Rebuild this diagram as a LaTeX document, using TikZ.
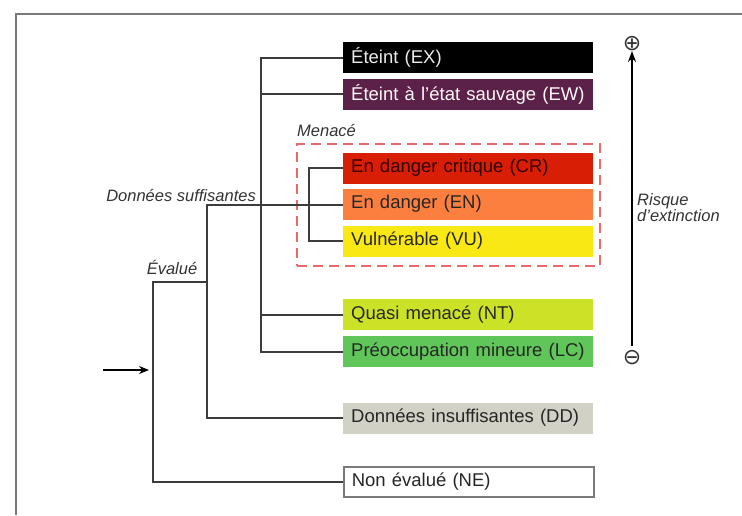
\documentclass[tikz,border=0pt]{standalone}
\usepackage{fontspec}
\setmainfont{Liberation Sans}
\newfontfamily\symfont{DejaVu Sans}
\usetikzlibrary{arrows.meta}
\definecolor{cEX}{HTML}{000000}
\definecolor{cEW}{HTML}{5C2149}
\definecolor{cCR}{HTML}{D81E05}
\definecolor{cEN}{HTML}{FC7F3F}
\definecolor{cVU}{HTML}{F9E814}
\definecolor{cNT}{HTML}{CCE226}
\definecolor{cLC}{HTML}{60C659}
\definecolor{cDD}{HTML}{D1D1C6}
\definecolor{cline}{HTML}{3C3C3C}
\definecolor{cframe}{HTML}{7A7A7A}
\definecolor{cdash}{HTML}{E66A6A}
\tikzset{
  catbox/.style={anchor=west, minimum height=31pt, inner xsep=8pt, inner ysep=0pt,
    text width=234pt, align=left, font=\fontsize{18.5}{20}\selectfont, text=black!85},
  conn/.style={draw=cline, line width=2pt},
  lab/.style={font=\fontsize{16.5}{17}\selectfont\itshape, text=black!80, inner sep=0pt},
}
\begin{document}
\begin{tikzpicture}[x=1pt,y=-1pt]
\useasboundingbox (0,0) rectangle (742,515);
% frame
\draw[cframe, line width=2pt] (15.5,515) -- (15.5,13.5) -- (742,13.5);
% category boxes
\node[catbox, fill=cEX, text=black!8] (EX) at (343,57.5) {Éteint (EX)};
\node[catbox, fill=cEW, text=white!90!pink] (EW) at (343,94) {Éteint à l'état sauvage (EW)};
\node[catbox, fill=cCR, text=black!80!red] (CR) at (343,168) {En danger critique (CR)};
\node[catbox, fill=cEN] (EN) at (343,204) {En danger (EN)};
\node[catbox, fill=cVU] (VU) at (343,241) {Vulnérable (VU)};
\node[catbox, fill=cNT] (NT) at (343,314.5) {Quasi menacé (NT)};
\node[catbox, fill=cLC] (LC) at (343,351.5) {Préoccupation mineure (LC)};
\node[catbox, fill=cDD] (DD) at (343,418) {Données insuffisantes (DD)};
\node[catbox, draw=cframe, line width=1.5pt, fill=white, minimum height=30pt] (NE) at (343,482) {Non évalué (NE)};
% threatened group
\node[draw=cdash, line width=1.8pt, dash pattern=on 10pt off 6pt, minimum width=303pt, minimum height=122pt, inner sep=0pt] (TH) at (448.5,205) {};
\node[lab, anchor=south west] (menace) at (297,137) {Menacé};
% tree connectors
\draw[conn] (EX.west) -- ++(-82,0) |- (LC.west);
\draw[conn] (EW.west) -- ++(-82,0);
\draw[conn] (NT.west) -- ++(-82,0);
\draw[conn] (CR.west) -- ++(-34,0) |- (VU.west);
\coordinate (ds) at (207,205);
\draw[conn] (EN.west |- ds) -- (ds) |- (DD.west);
\coordinate (ev) at (153,282);
\draw[conn] (ev -| ds) -- (ev) |- (NE.west);
\node[lab, anchor=south east] (dsl) at (256,202) {Données suffisantes};
\node[lab, anchor=south] (evl) at (172,275) {Évalué};
% input arrow
\coordinate (in0) at (103,370);
\coordinate (in1) at (149,370);
\draw[line width=1.5pt, -{Stealth[length=10pt,width=8pt]}] (in0) -- (in1);
% risk axis
\node[font=\symfont\fontsize{22}{22}\selectfont, inner sep=0pt, text=black!80] (plus) at (632,44) {⊕};
\node[font=\symfont\fontsize{22}{22}\selectfont, inner sep=0pt, text=black!80] (minus) at (632,358) {⊖};
\draw[line width=1.6pt, -{Stealth[length=11pt,width=8pt]}] (632,346) -- (632,51);
\node[lab, anchor=north west, align=left, font=\fontsize{16.5}{16.5}\selectfont\itshape] (risk) at (637,193) {Risque\\d'extinction};
\end{tikzpicture}
\end{document}
